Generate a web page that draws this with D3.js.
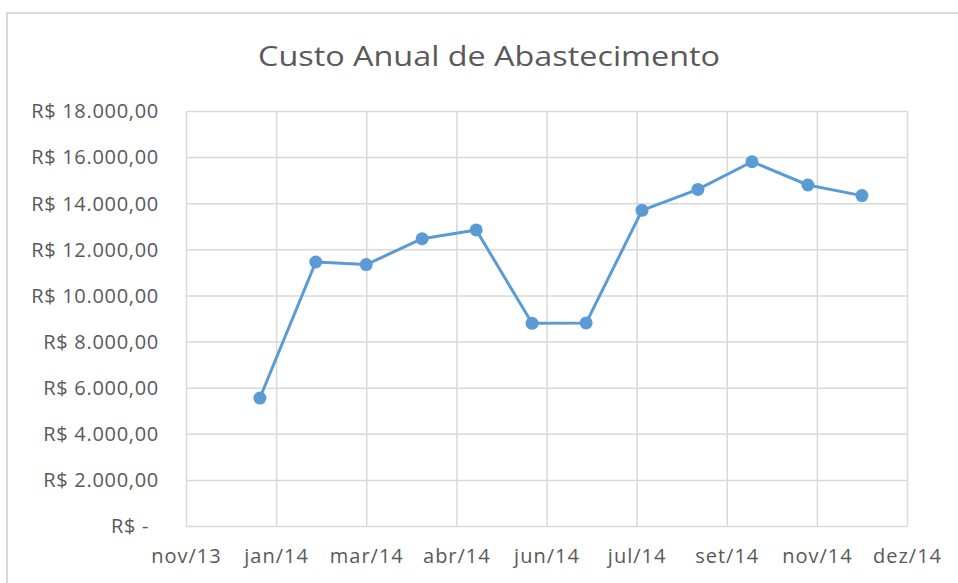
<!DOCTYPE html>
<html>
<head>
<meta charset="utf-8">
<script src="https://cdn.jsdelivr.net/npm/d3@7"></script>
<style>
  html, body { margin: 0; padding: 0; background: #ffffff; }
  svg { display: block; }
  text { font-family: "Open Sans", "Liberation Sans", sans-serif; fill: #595959; }
</style>
</head>
<body>
<svg id="chart" width="958" height="583"></svg>
<script>
// Monthly supply cost, 2014 (first day of each month)
const months = ["2014-01-01", "2014-02-01", "2014-03-01", "2014-04-01", "2014-05-01", "2014-06-01",
                "2014-07-01", "2014-08-01", "2014-09-01", "2014-10-01", "2014-11-01", "2014-12-01"];
const costs = [5550, 11450, 11340, 12460, 12840, 8790, 8810, 13690, 14600, 15800, 14790, 14330];

// Date axis ticks (50-day major unit)
const xTickDates = ["2013-11-21", "2014-01-10", "2014-03-01", "2014-04-20", "2014-06-09",
                    "2014-07-29", "2014-09-17", "2014-11-06", "2014-12-26"];
const yTicks = [0, 2000, 4000, 6000, 8000, 10000, 12000, 14000, 16000, 18000];
const title = "Custo Anual de Abastecimento";

const parse = d3.utcParse("%Y-%m-%d");
const ptTime = d3.timeFormatLocale({
  dateTime: "%d/%m/%Y %H:%M:%S", date: "%d/%m/%Y", time: "%H:%M:%S",
  periods: ["AM", "PM"],
  days: ["domingo", "segunda", "terça", "quarta", "quinta", "sexta", "sábado"],
  shortDays: ["dom", "seg", "ter", "qua", "qui", "sex", "sáb"],
  months: ["janeiro", "fevereiro", "março", "abril", "maio", "junho", "julho", "agosto",
           "setembro", "outubro", "novembro", "dezembro"],
  shortMonths: ["jan", "fev", "mar", "abr", "mai", "jun", "jul", "ago", "set", "out", "nov", "dez"]
});
const fmtDate = ptTime.utcFormat("%b/%y");
const brl = d3.formatLocale({ decimal: ",", thousands: ".", grouping: [3], currency: ["R$ ", ""] });
const fmtMoney = v => v === 0 ? "R$ -" : brl.format("$,.2f")(v);

const data = months.map((m, i) => ({ date: parse(m), value: costs[i] }));
const ticks = xTickDates.map(parse);

const svg = d3.select("#chart");
const plot = { left: 186, right: 907, top: 111, bottom: 526 };

const x = d3.scaleUtc().domain([ticks[0], ticks[ticks.length - 1]]).range([plot.left, plot.right]);
const y = d3.scaleLinear().domain([0, 18000]).range([plot.bottom, plot.top]);

// Chart frame
svg.append("rect")
  .attr("x", 7).attr("y", 13).attr("width", 1000).attr("height", 640)
  .attr("fill", "none").attr("stroke", "#d9d9d9").attr("stroke-width", 2);

// Title
svg.append("text")
  .attr("x", 489).attr("y", 66)
  .attr("text-anchor", "middle")
  .attr("font-size", 28)
  .attr("textLength", 462).attr("lengthAdjust", "spacingAndGlyphs")
  .text(title);

// Horizontal gridlines + y labels
const yAxis = d3.axisLeft(y).tickValues(yTicks).tickSize(-(plot.right - plot.left)).tickFormat(fmtMoney).tickPadding(26);
const gy = svg.append("g").attr("transform", `translate(${plot.left},0)`).call(yAxis);
gy.select(".domain").remove();
gy.selectAll(".tick line").attr("stroke", "#d9d9d9").attr("stroke-width", 1.5);
gy.selectAll(".tick text")
  .attr("font-size", 20)
  .attr("font-family", null)
  .attr("fill", "#595959")
  .attr("letter-spacing", 0.7)
  .attr("dy", "0.34em")
  .attr("x", -27);

// Accounting-style zero: currency sign, then a dash set in from the axis
gy.selectAll(".tick text").filter(d => d === 0)
  .attr("text-anchor", "start")
  .text(null)
  .call(t => {
    t.append("tspan").attr("x", -75).text("R$");
    t.append("tspan").attr("x", -44).text("-");
  });

// Vertical gridlines + date labels
const xAxis = d3.axisBottom(x).tickValues(ticks).tickSize(-(plot.bottom - plot.top)).tickFormat(fmtDate).tickPadding(23);
const gx = svg.append("g").attr("transform", `translate(0,${plot.bottom})`).call(xAxis);
gx.select(".domain").remove();
gx.selectAll(".tick line").attr("stroke", "#d9d9d9").attr("stroke-width", 1.5);
gx.selectAll(".tick text")
  .attr("font-size", 20)
  .attr("font-family", null)
  .attr("fill", "#595959")
  .attr("letter-spacing", 1)
  .attr("dy", "0.71em");

// Cost line
const line = d3.line().x(d => x(d.date)).y(d => y(d.value));
svg.append("path")
  .datum(data)
  .attr("fill", "none")
  .attr("stroke", "#5b9bd5")
  .attr("stroke-width", 3)
  .attr("stroke-linejoin", "round")
  .attr("d", line);

svg.append("g").selectAll("circle")
  .data(data)
  .join("circle")
  .attr("cx", d => x(d.date))
  .attr("cy", d => y(d.value))
  .attr("r", 6.5)
  .attr("fill", "#5b9bd5");
</script>
</body>
</html>
